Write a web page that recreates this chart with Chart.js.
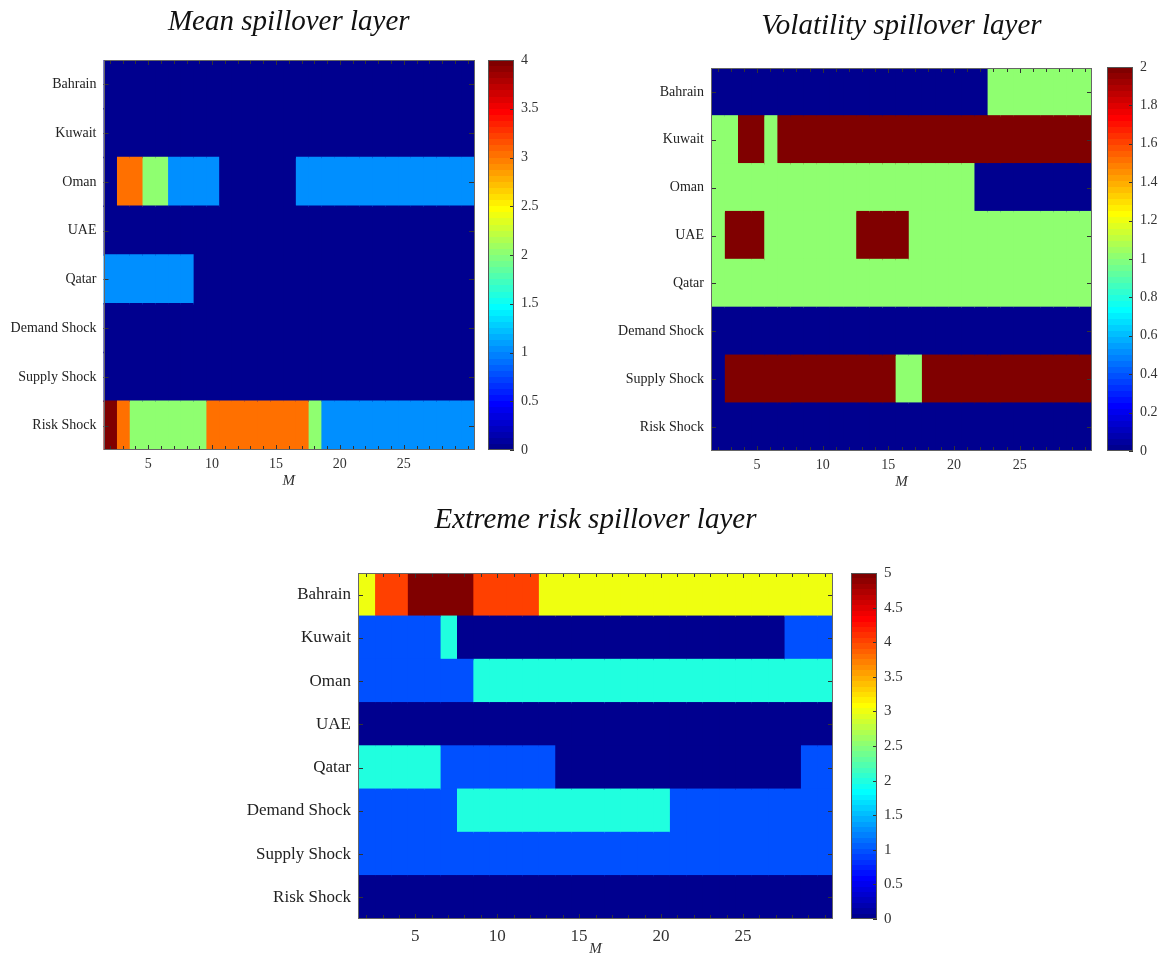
<!DOCTYPE html>
<html>
<head>
<meta charset="utf-8">
<script src="https://cdn.jsdelivr.net/npm/chart.js@4.4.1/dist/chart.umd.min.js"></script>
<style>
  body { margin: 0; background: #fff; }
  canvas { position: absolute; }
</style>
</head>
<body>
<canvas id="meanChart" width="480" height="495" style="left:0;top:0"></canvas>
<canvas id="meanBar" width="80" height="495" style="left:480px;top:0"></canvas>
<canvas id="volChart" width="500" height="495" style="left:600px;top:0"></canvas>
<canvas id="volBar" width="62" height="495" style="left:1100px;top:0"></canvas>
<canvas id="extChart" width="640" height="462" style="left:200px;top:495px"></canvas>
<canvas id="extBar" width="80" height="462" style="left:840px;top:495px"></canvas>
<script>
const rows = ['Bahrain', 'Kuwait', 'Oman', 'UAE', 'Qatar', 'Demand Shock', 'Supply Shock', 'Risk Shock'];
const mValues = [2,3,4,5,6,7,8,9,10,11,12,13,14,15,16,17,18,19,20,21,22,23,24,25,26,27,28,29,30];
const xTickValues = [5, 10, 15, 20, 25];

// one row per entry of rows, one value per entry of mValues
const meanValues = [
  [0,0,0,0,0,0,0,0,0,0, 0,0,0,0,0,0,0,0,0,0, 0,0,0,0,0,0,0,0,0],
  [0,0,0,0,0,0,0,0,0,0, 0,0,0,0,0,0,0,0,0,0, 0,0,0,0,0,0,0,0,0],
  [0,3,3,2,2,1,1,1,1,0, 0,0,0,0,0,1,1,1,1,1, 1,1,1,1,1,1,1,1,1],
  [0,0,0,0,0,0,0,0,0,0, 0,0,0,0,0,0,0,0,0,0, 0,0,0,0,0,0,0,0,0],
  [1,1,1,1,1,1,1,0,0,0, 0,0,0,0,0,0,0,0,0,0, 0,0,0,0,0,0,0,0,0],
  [0,0,0,0,0,0,0,0,0,0, 0,0,0,0,0,0,0,0,0,0, 0,0,0,0,0,0,0,0,0],
  [0,0,0,0,0,0,0,0,0,0, 0,0,0,0,0,0,0,0,0,0, 0,0,0,0,0,0,0,0,0],
  [4,3,2,2,2,2,2,2,3,3, 3,3,3,3,3,3,2,1,1,1, 1,1,1,1,1,1,1,1,1]
];
const volValues = [
  [0,0,0,0,0,0,0,0,0,0, 0,0,0,0,0,0,0,0,0,0, 0,1,1,1,1,1,1,1,1],
  [1,1,2,2,1,2,2,2,2,2, 2,2,2,2,2,2,2,2,2,2, 2,2,2,2,2,2,2,2,2],
  [1,1,1,1,1,1,1,1,1,1, 1,1,1,1,1,1,1,1,1,1, 0,0,0,0,0,0,0,0,0],
  [1,2,2,2,1,1,1,1,1,1, 1,2,2,2,2,1,1,1,1,1, 1,1,1,1,1,1,1,1,1],
  [1,1,1,1,1,1,1,1,1,1, 1,1,1,1,1,1,1,1,1,1, 1,1,1,1,1,1,1,1,1],
  [0,0,0,0,0,0,0,0,0,0, 0,0,0,0,0,0,0,0,0,0, 0,0,0,0,0,0,0,0,0],
  [0,2,2,2,2,2,2,2,2,2, 2,2,2,2,1,1,2,2,2,2, 2,2,2,2,2,2,2,2,2],
  [0,0,0,0,0,0,0,0,0,0, 0,0,0,0,0,0,0,0,0,0, 0,0,0,0,0,0,0,0,0]
];
const extValues = [
  [3,4,4,5,5,5,5,4,4,4, 4,3,3,3,3,3,3,3,3,3, 3,3,3,3,3,3,3,3,3],
  [1,1,1,1,1,2,0,0,0,0, 0,0,0,0,0,0,0,0,0,0, 0,0,0,0,0,0,1,1,1],
  [1,1,1,1,1,1,1,2,2,2, 2,2,2,2,2,2,2,2,2,2, 2,2,2,2,2,2,2,2,2],
  [0,0,0,0,0,0,0,0,0,0, 0,0,0,0,0,0,0,0,0,0, 0,0,0,0,0,0,0,0,0],
  [2,2,2,2,2,1,1,1,1,1, 1,1,0,0,0,0,0,0,0,0, 0,0,0,0,0,0,0,1,1],
  [1,1,1,1,1,1,2,2,2,2, 2,2,2,2,2,2,2,2,2,1, 1,1,1,1,1,1,1,1,1],
  [1,1,1,1,1,1,1,1,1,1, 1,1,1,1,1,1,1,1,1,1, 1,1,1,1,1,1,1,1,1],
  [0,0,0,0,0,0,0,0,0,0, 0,0,0,0,0,0,0,0,0,0, 0,0,0,0,0,0,0,0,0]
];

const meanCbTicks = [0, 0.5, 1, 1.5, 2, 2.5, 3, 3.5, 4];
const volCbTicks = [0, 0.2, 0.4, 0.6, 0.8, 1, 1.2, 1.4, 1.6, 1.8, 2];
const extCbTicks = [0, 0.5, 1, 1.5, 2, 2.5, 3, 3.5, 4, 4.5, 5];

const SERIF = '"Liberation Serif", "Times New Roman", serif';

// matlab jet(64)
function makeJet() {
  const n = 16, m = 64;
  const u = [];
  for (let i = 1; i <= n; i++) u.push(i / n);
  for (let i = 0; i < n - 1; i++) u.push(1);
  for (let i = n; i >= 1; i--) u.push(i / n);
  const r = new Array(m).fill(0), g = new Array(m).fill(0), b = new Array(m).fill(0);
  const g0 = Math.ceil(n / 2);
  for (let k = 1; k <= u.length; k++) {
    const gi = g0 + k, ri = gi + n, bi = gi - n;
    if (ri <= m) r[ri - 1] = u[k - 1];
    if (gi <= m) g[gi - 1] = u[k - 1];
    if (bi >= 1) b[bi - 1] = u[k - 1];
  }
  return r.map((_, i) => `rgb(${Math.round(r[i]*255)},${Math.round(g[i]*255)},${Math.round(b[i]*255)})`);
}
const jet = makeJet();
function jetColor(v, cmax) {
  return jet[Math.min(63, Math.floor(v / cmax * 64))];
}

const heatDecor = {
  id: 'heatDecor',
  afterDraw(chart) {
    const {ctx, chartArea: a, scales} = chart;
    ctx.save();
    ctx.strokeStyle = '#333';
    ctx.lineWidth = 1;
    ctx.beginPath();
    mValues.forEach(m => {
      const x = Math.round(scales.x.getPixelForValue(m)) + 0.5;
      const len = xTickValues.includes(m) ? 5 : 4;
      ctx.moveTo(x, a.bottom); ctx.lineTo(x, a.bottom - len);
      ctx.moveTo(x, a.top); ctx.lineTo(x, a.top + len);
    });
    rows.forEach((r, i) => {
      const y = Math.round(scales.y.getPixelForValue(i)) + 0.5;
      ctx.moveTo(a.left, y); ctx.lineTo(a.left + 5, y);
      ctx.moveTo(a.right, y); ctx.lineTo(a.right - 5, y);
    });
    ctx.stroke();
    ctx.strokeStyle = '#666';
    ctx.strokeRect(Math.round(a.left) + 0.5, Math.round(a.top) + 0.5,
      Math.round(a.right - a.left) - 1, Math.round(a.bottom - a.top) - 1);
    ctx.restore();
  }
};

const barDecor = {
  id: 'barDecor',
  afterDraw(chart) {
    const {ctx, chartArea: a, scales} = chart;
    ctx.save();
    ctx.strokeStyle = '#333';
    ctx.lineWidth = 1;
    ctx.beginPath();
    scales.y.ticks.forEach(t => {
      const y = Math.round(scales.y.getPixelForValue(t.value)) + 0.5;
      ctx.moveTo(a.right, y); ctx.lineTo(a.right - 4, y);
    });
    ctx.stroke();
    ctx.strokeStyle = '#555';
    ctx.strokeRect(Math.round(a.left) + 0.5, Math.round(a.top) + 0.5,
      Math.round(a.right - a.left) - 1, Math.round(a.bottom - a.top) - 1);
    ctx.restore();
  }
};

function heatChart(id, title, values, cmax, g) {
  const datasets = mValues.map((m, j) => ({
    data: rows.map(() => [m - 0.5, m + 0.5]),
    backgroundColor: rows.map((r, i) => jetColor(values[i][j], cmax)),
    borderWidth: 0,
    barPercentage: 1,
    categoryPercentage: 1,
    inflateAmount: 0.7,
    grouped: false
  }));
  return new Chart(document.getElementById(id), {
    type: 'bar',
    data: { labels: rows, datasets: datasets },
    plugins: [heatDecor],
    options: {
      indexAxis: 'y',
      responsive: false,
      animation: false,
      events: [],
      layout: { padding: { left: 0, right: g.right, top: 0, bottom: 0 } },
      plugins: {
        legend: { display: false },
        tooltip: { enabled: false },
        title: {
          display: true,
          text: title,
          fullSize: false,
          color: '#111',
          font: { family: SERIF, size: 29, style: 'italic', weight: 'normal' },
          padding: { top: g.titleTop, bottom: g.titleBottom }
        }
      },
      scales: {
        x: {
          type: 'linear',
          min: 1.5,
          max: 30.5,
          afterBuildTicks: s => { s.ticks = xTickValues.map(v => ({ value: v })); },
          afterFit: s => { s.height = g.xHeight; },
          grid: { display: false, drawTicks: false },
          border: { display: false },
          ticks: { color: '#333', padding: g.xPad, font: { family: SERIF, size: g.font }, callback: v => String(v) },
          title: {
            display: true, text: 'M', color: '#333',
            font: { family: SERIF, size: 15, style: 'italic' },
            padding: { top: 0, bottom: g.mPad }
          }
        },
        y: {
          type: 'category',
          afterFit: s => { s.width = g.yWidth; },
          grid: { display: false, drawTicks: false },
          border: { display: false },
          ticks: { color: '#222', padding: g.yPad, font: { family: SERIF, size: g.font } }
        }
      }
    }
  });
}

function colorBar(id, cmax, tickVals, g) {
  return new Chart(document.getElementById(id), {
    type: 'bar',
    data: {
      labels: ['cb'],
      datasets: [{
        data: [[0, cmax]],
        barPercentage: 1,
        categoryPercentage: 1,
        borderWidth: 0,
        backgroundColor: c => {
          const a = c.chart.chartArea;
          if (!a) return null;
          const grad = c.chart.ctx.createLinearGradient(0, a.bottom, 0, a.top);
          jet.forEach((col, i) => {
            grad.addColorStop(i / 64, col);
            grad.addColorStop((i + 1) / 64, col);
          });
          return grad;
        }
      }]
    },
    plugins: [barDecor],
    options: {
      responsive: false,
      animation: false,
      events: [],
      layout: { padding: { left: g.left, top: g.top, bottom: g.bottom, right: 0 } },
      plugins: { legend: { display: false }, tooltip: { enabled: false } },
      scales: {
        x: { display: false },
        y: {
          position: 'right',
          min: 0,
          max: cmax,
          afterBuildTicks: s => { s.ticks = tickVals.map(v => ({ value: v })); },
          afterFit: s => { s.width = g.width; },
          grid: { display: false, drawTicks: false },
          border: { display: false },
          ticks: { color: '#333', padding: g.pad, font: { family: SERIF, size: g.font }, callback: v => String(v) }
        }
      }
    }
  });
}

heatChart('meanChart', 'Mean spillover layer', meanValues, 4,
  { right: 6, yWidth: 103.5, titleTop: 5, titleBottom: 20.2, xHeight: 45, xPad: 6, mPad: 5, yPad: 7, font: 14 });
colorBar('meanBar', 4, meanCbTicks, { left: 8, top: 60, bottom: 45, width: 46, pad: 7, font: 14 });

heatChart('volChart', 'Volatility spillover layer', volValues, 2,
  { right: 8, yWidth: 111, titleTop: 9, titleBottom: 24.2, xHeight: 44, xPad: 6, mPad: 4, yPad: 7, font: 14 });
colorBar('volBar', 2, volCbTicks, { left: 7, top: 67, bottom: 44, width: 29, pad: 7, font: 14 });

heatChart('extChart', 'Extreme risk spillover layer', extValues, 5,
  { right: 7, yWidth: 158, titleTop: 8, titleBottom: 35.2, xHeight: 38, xPad: 7, mPad: -1, yPad: 7, font: 17 });
colorBar('extBar', 5, extCbTicks, { left: 11, top: 78, bottom: 38, width: 43, pad: 7, font: 15 });
</script>
</body>
</html>
